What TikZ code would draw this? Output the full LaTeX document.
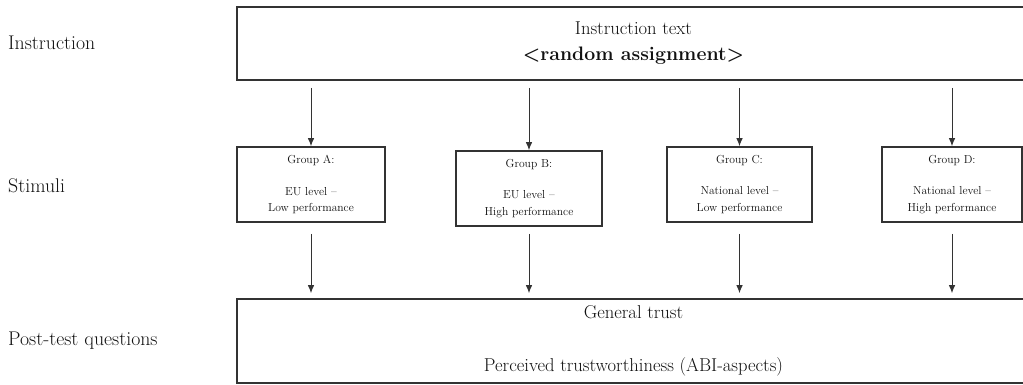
\documentclass[tikz,border=0pt]{standalone}
\usepackage{fontspec}
\usetikzlibrary{arrows.meta}
\definecolor{boxc}{HTML}{333333}
\definecolor{txt}{HTML}{111111}
\definecolor{linec}{HTML}{333333}
\begin{document}
\begin{tikzpicture}[x=1pt,y=-1pt,
  box/.style={draw=boxc, line width=1.6pt, inner sep=0pt, align=center, text=txt},
  grp/.style={box, minimum height=75pt, font=\fontsize{11.6}{16.5}\selectfont},
  big/.style={font=\fontsize{18.6}{21}\selectfont},
  lbl/.style={anchor=west, inner sep=0pt, text=txt, font=\fontsize{19.8}{22}\selectfont},
  arr/.style={draw=linec, line width=1pt, -{Latex[length=8pt,width=6.5pt]}}]
\useasboundingbox (0,0) rectangle (1023,384);
\clip (0,0) rectangle (1023,384);
\fill[white] (0,0) rectangle (1023,384);

% row labels
\node[lbl] (l1) at (8,43) {Instruction};
\node[lbl] (l2) at (8,186) {Stimuli};
\node[lbl] (l3) at (8,341) {Post-test questions};

% instruction box
\node[box, big, minimum width=793pt, minimum height=73pt] (instr) at (633.5,43.5)
  {Instruction text\\[5pt]{\fontsize{19.5}{21}\selectfont\bfseries <random assignment>}};

% group boxes
\node[grp, minimum width=148pt] (gA) at (311,184.5)
  {Group A:\\[15pt]EU level –\\Low performance};
\node[grp, minimum width=146pt] (gB) at (529,188.5)
  {Group B:\\[15pt]EU level –\\High performance};
\node[grp, minimum width=145pt] (gC) at (739.5,184.5)
  {Group C:\\[15pt]National level –\\Low performance};
\node[grp, minimum width=140pt] (gD) at (952,184.5)
  {Group D:\\[15pt]National level –\\High performance};

% post-test box
\node[box, big, minimum width=793pt, minimum height=84pt] (post) at (633.5,341)
  {General trust\\[32pt]Perceived trustworthiness (ABI-aspects)};

% arrows from instruction to groups
\foreach \g in {gA,gB,gC,gD}
  \draw[arr, shorten <=7pt] (instr.south -| \g.north) -- (\g.north);

% arrows from groups to post-test
\draw[arr, shorten <=11pt, shorten >=5pt] (gA.south) -- (gA.south |- post.north);
\draw[arr, shorten <=7pt, shorten >=5pt] (gB.south) -- (gB.south |- post.north);
\draw[arr, shorten <=11pt, shorten >=5pt] (gC.south) -- (gC.south |- post.north);
\draw[arr, shorten <=11pt, shorten >=5pt] (gD.south) -- (gD.south |- post.north);
\end{tikzpicture}
\end{document}
